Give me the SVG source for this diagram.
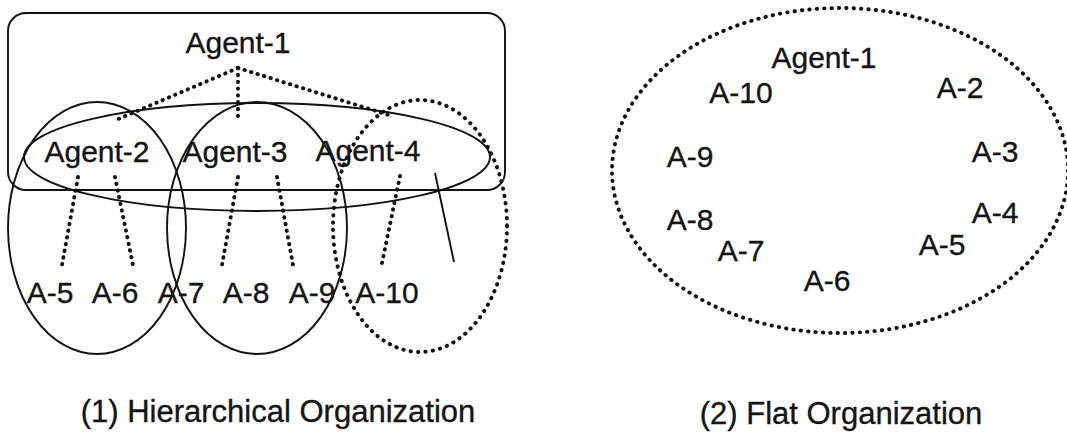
<svg xmlns="http://www.w3.org/2000/svg" width="1067" height="439" viewBox="0 0 1067 439">
  <style>
    .lbl { font-family: "Liberation Sans", Arial, sans-serif; font-size: 30px; fill: #141414; stroke: #141414; stroke-width: 0.35; }
    .cap { font-family: "Liberation Sans", Arial, sans-serif; font-size: 31px; fill: #141414; stroke: #141414; stroke-width: 0.35; }
    .solid { fill: none; stroke: #111; stroke-width: 1.9; }
    .dots { fill: none; stroke: #111; stroke-width: 3.9; stroke-linecap: round; stroke-dasharray: 0.4 6.4; }
    .dotring { fill: none; stroke: #111; stroke-width: 3.9; stroke-linecap: round; stroke-dasharray: 0.4 7; }
  </style>
  <rect width="1067" height="439" fill="#ffffff"/>

  <!-- (1) hierarchical organization: group outlines -->
  <g id="groups-hierarchical">
    <rect id="group-agent1" class="solid" x="8" y="13" width="497" height="177" rx="18" ry="18"/>
    <ellipse id="group-level2" class="solid" cx="257" cy="157" rx="233" ry="54"/>
    <ellipse id="group-agent2" class="solid" cx="97" cy="228" rx="89" ry="126"/>
    <ellipse id="group-agent3" class="solid" cx="257" cy="228" rx="90" ry="126"/>
    <ellipse id="group-agent4" class="dotring" cx="420" cy="226" rx="87" ry="126"/>
  </g>

  <!-- links between agents -->
  <g id="connectors">
    <line class="dots" x1="238" y1="68" x2="116" y2="120"/>
    <line class="dots" x1="238" y1="68" x2="238" y2="116"/>
    <line class="dots" x1="238" y1="68" x2="392" y2="116"/>
    <line class="dots" x1="78" y1="177" x2="62" y2="265"/>
    <line class="dots" x1="115" y1="177" x2="133" y2="265"/>
    <line class="dots" x1="238" y1="177" x2="222" y2="265"/>
    <line class="dots" x1="277" y1="177" x2="293" y2="265"/>
    <line class="dots" x1="400" y1="176" x2="382" y2="263"/>
    <line class="solid" x1="435" y1="173" x2="454" y2="262"/>
  </g>

  <!-- hierarchical agents -->
  <g id="h-agent1"><text class="lbl" x="238" y="53" text-anchor="middle">Agent-1</text></g>
  <g id="h-agent2"><text class="lbl" x="97" y="162" text-anchor="middle">Agent-2</text></g>
  <g id="h-agent3"><text class="lbl" x="235" y="162" text-anchor="middle">Agent-3</text></g>
  <g id="h-agent4"><text class="lbl" x="368" y="161" text-anchor="middle">Agent-4</text></g>
  <g id="h-a5"><text class="lbl" x="50" y="303" text-anchor="middle">A-5</text></g>
  <g id="h-a6"><text class="lbl" x="115" y="303" text-anchor="middle">A-6</text></g>
  <g id="h-a7"><text class="lbl" x="181" y="303" text-anchor="middle">A-7</text></g>
  <g id="h-a8"><text class="lbl" x="246" y="303" text-anchor="middle">A-8</text></g>
  <g id="h-a9"><text class="lbl" x="312" y="303" text-anchor="middle">A-9</text></g>
  <g id="h-a10"><text class="lbl" x="387" y="303" text-anchor="middle">A-10</text></g>
  <text class="cap" x="278" y="422" text-anchor="middle">(1) Hierarchical Organization</text>

  <!-- (2) flat organization -->
  <g id="group-flat">
    <ellipse class="dotring" cx="840" cy="170.5" rx="228" ry="162.5"/>
  </g>
  <g id="f-agent1"><text class="lbl" x="824" y="68" text-anchor="middle">Agent-1</text></g>
  <g id="f-a10"><text class="lbl" x="741" y="103" text-anchor="middle">A-10</text></g>
  <g id="f-a2"><text class="lbl" x="960" y="98" text-anchor="middle">A-2</text></g>
  <g id="f-a9"><text class="lbl" x="690" y="167" text-anchor="middle">A-9</text></g>
  <g id="f-a3"><text class="lbl" x="995" y="162" text-anchor="middle">A-3</text></g>
  <g id="f-a8"><text class="lbl" x="690" y="230" text-anchor="middle">A-8</text></g>
  <g id="f-a4"><text class="lbl" x="995" y="223" text-anchor="middle">A-4</text></g>
  <g id="f-a7"><text class="lbl" x="741" y="261" text-anchor="middle">A-7</text></g>
  <g id="f-a5"><text class="lbl" x="942" y="255" text-anchor="middle">A-5</text></g>
  <g id="f-a6"><text class="lbl" x="827" y="291" text-anchor="middle">A-6</text></g>
  <text class="cap" x="841" y="424" text-anchor="middle">(2) Flat Organization</text>
</svg>
